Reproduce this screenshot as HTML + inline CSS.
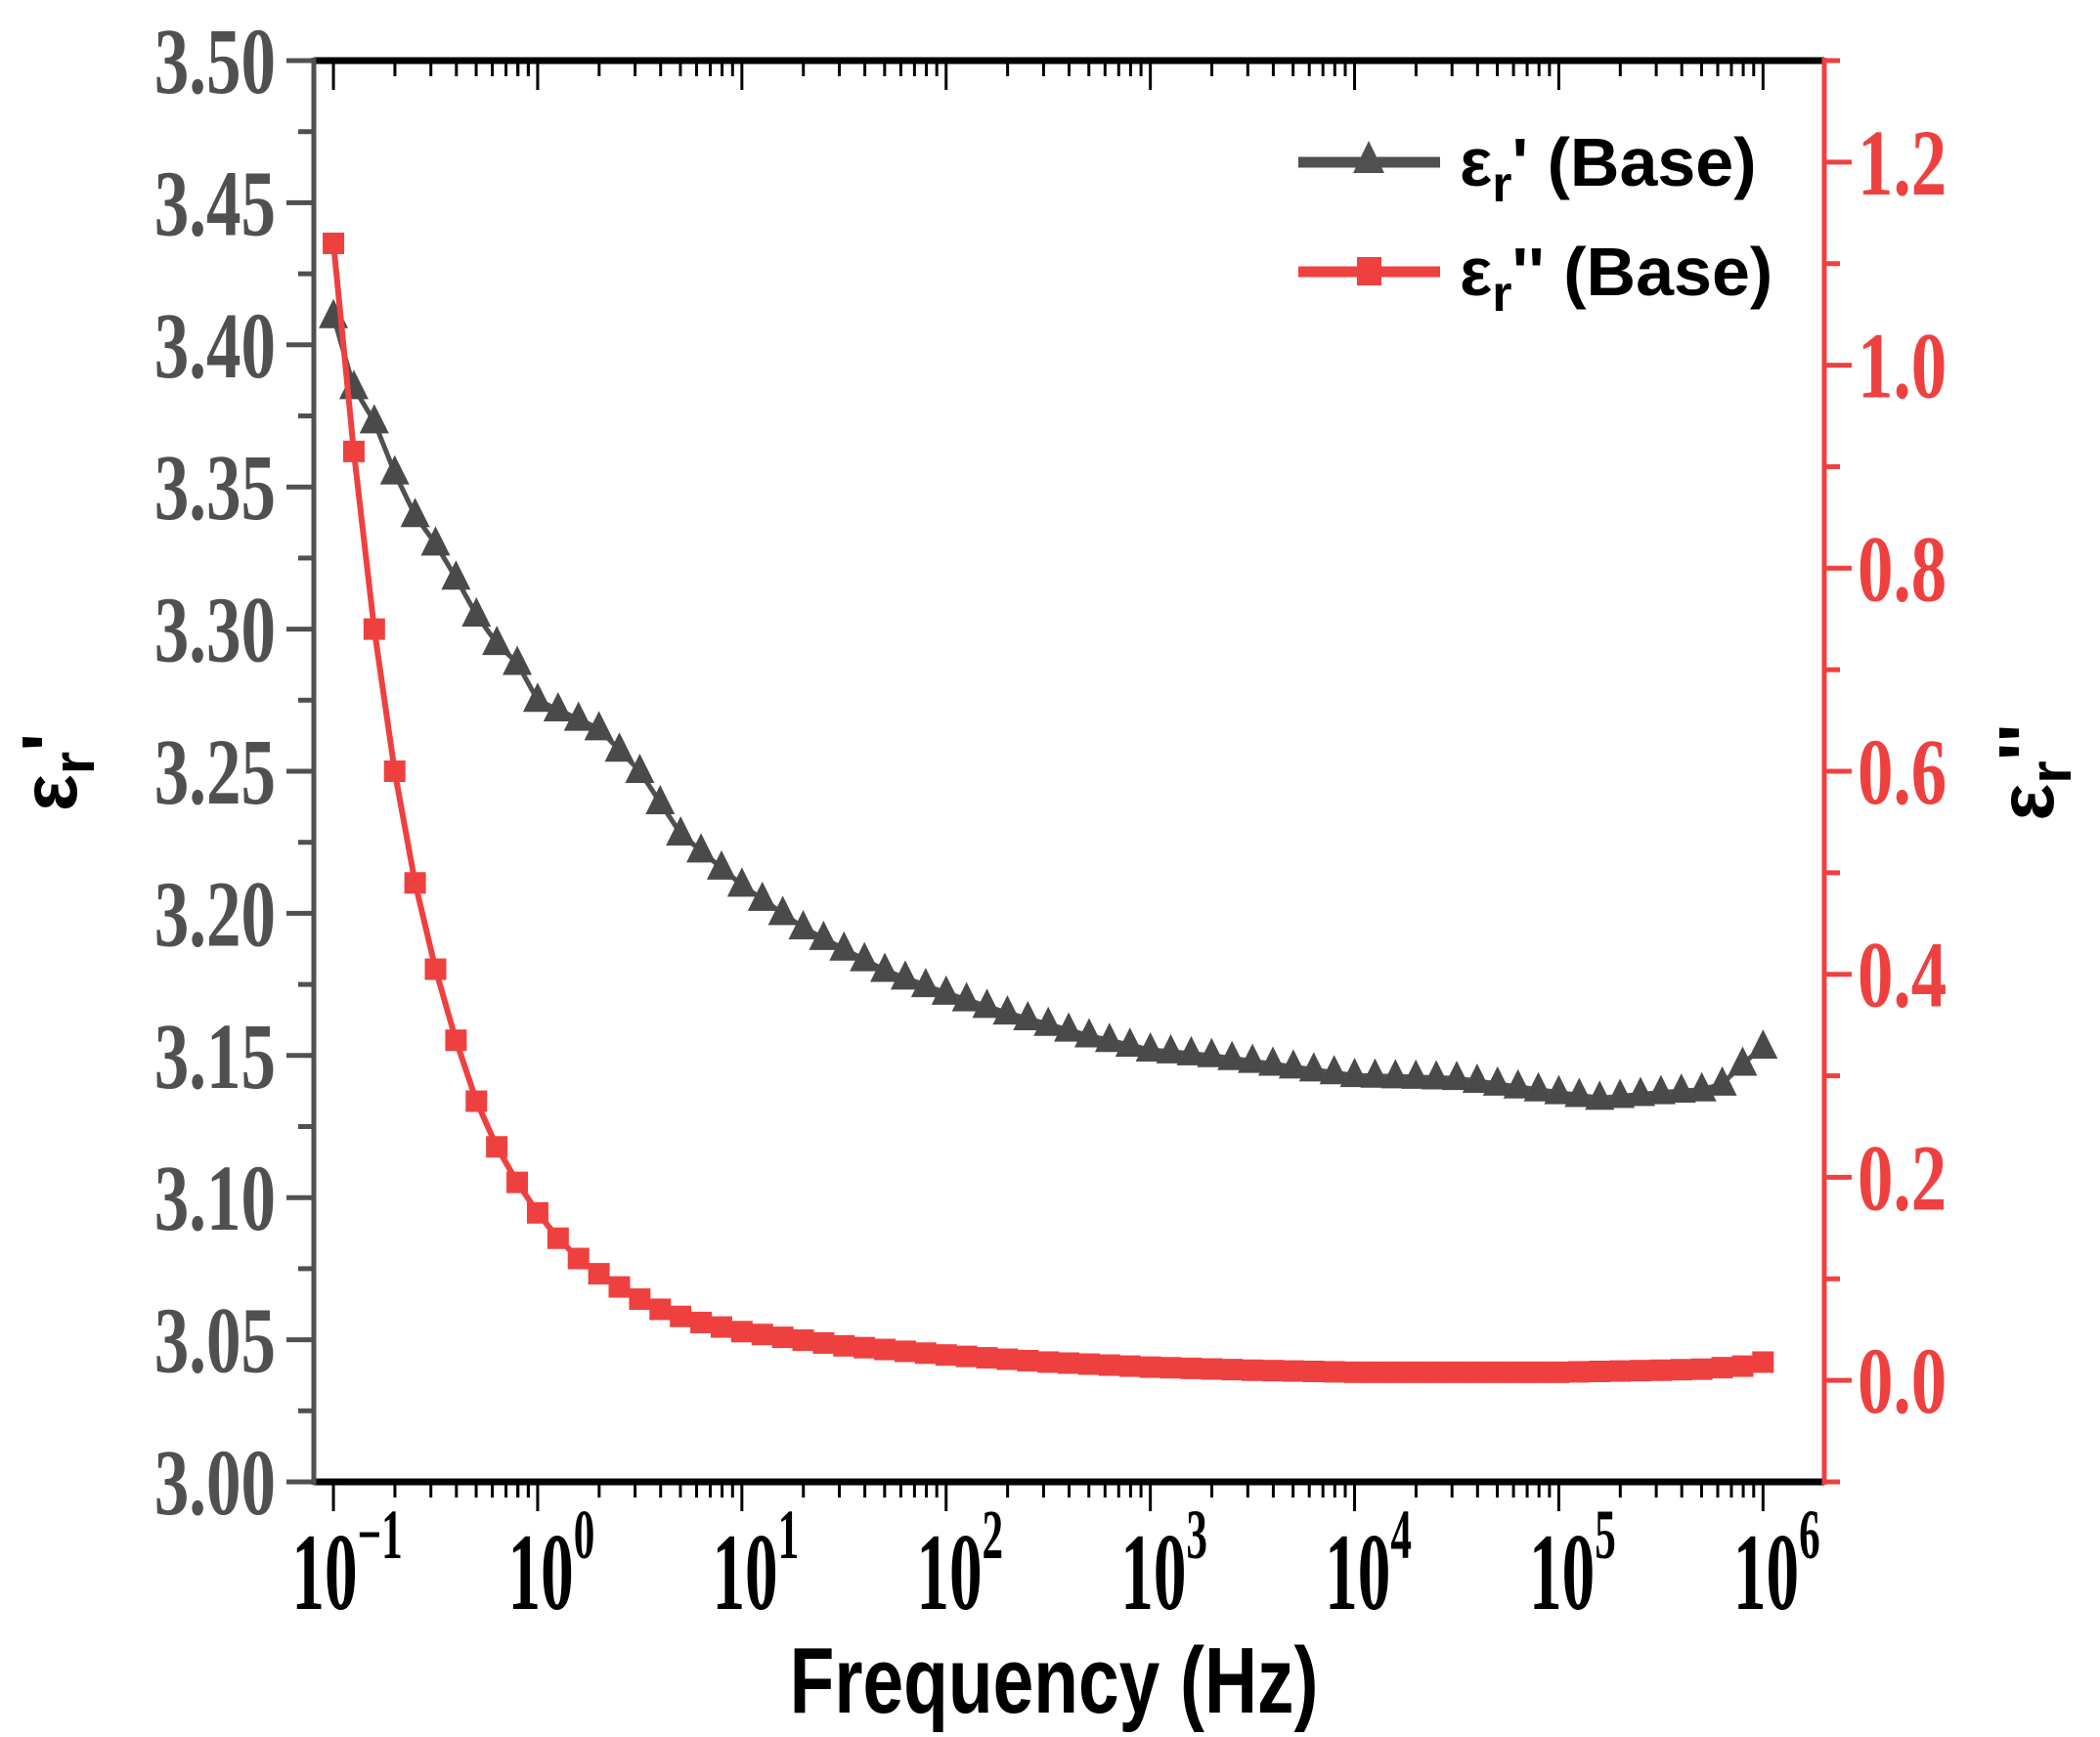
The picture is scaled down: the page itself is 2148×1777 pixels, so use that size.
<!DOCTYPE html>
<html><head><meta charset="utf-8"><style>
html,body{margin:0;padding:0;background:#fff}
svg{display:block}
</style></head><body>
<svg id="s" width="2148" height="1777" xmlns="http://www.w3.org/2000/svg"></svg>
<script>
const s=document.getElementById('s');
const L=321,R=1866,T=62,B=1516;
const lx0=-1.096,lx1=6.30;
const X=l=>L+(l-lx0)/(lx1-lx0)*(R-L);
const Y1=v=>B-(v-3.0)/0.5*(B-T);
const Y2=v=>B-(v+0.1)/1.4*(B-T);
let h='';
const GR='#505050',RD='#ef4040';
const e1=[[-1,3.41],[-0.9,3.385],[-0.8,3.373],[-0.7,3.355],[-0.6,3.34],[-0.5,3.33],[-0.4,3.318],[-0.3,3.305],[-0.2,3.295],[-0.1,3.288],[0,3.275],[0.3,3.265],[0.5,3.25],[0.7,3.228],[1,3.21],[1.3,3.195],[1.7,3.18],[2,3.172],[2.3,3.165],[2.7,3.157],[3,3.152],[3.3,3.15],[3.7,3.146],[4,3.143],[4.5,3.142],[5,3.137],[5.2,3.135],[5.5,3.137],[5.7,3.138],[5.8,3.14],[5.9,3.147],[6,3.153]];
const e2=[[-1,1.12],[-0.9,0.915],[-0.8,0.74],[-0.7,0.6],[-0.6,0.49],[-0.5,0.405],[-0.4,0.335],[-0.3,0.275],[-0.2,0.23],[-0.1,0.195],[0,0.165],[0.1,0.14],[0.2,0.12],[0.3,0.105],[0.4,0.092],[0.5,0.08],[0.6,0.07],[0.7,0.063],[0.8,0.057],[1,0.048],[1.5,0.034],[2,0.025],[2.5,0.018],[3,0.013],[3.5,0.01],[4,0.008],[5,0.008],[5.5,0.010],[5.7,0.011],[5.9,0.014],[6,0.018]];
function interp(c,l){for(let i=0;i<c.length-1;i++){if(l<=c[i+1][0]+1e-9){const t=(l-c[i][0])/(c[i+1][0]-c[i][0]);return c[i][1]+t*(c[i+1][1]-c[i][1]);}}return c[c.length-1][1];}
const ls=[];for(let i=0;i<=70;i++)ls.push(-1+i*0.1);
let p=ls.map(l=>X(l).toFixed(1)+','+Y1(interp(e1,l)).toFixed(1)).join(' ');
h+=`<polyline points="${p}" fill="none" stroke="${GR}" stroke-width="5"/>`;
ls.forEach(l=>{const x=X(l),y=Y1(interp(e1,l));h+=`<polygon points="${x},${y-18} ${x-15},${y+12} ${x+15},${y+12}" fill="#4a4a4a"/>`;});
p=ls.map(l=>X(l).toFixed(1)+','+Y2(interp(e2,l)).toFixed(1)).join(' ');
h+=`<polyline points="${p}" fill="none" stroke="${RD}" stroke-width="6"/>`;
ls.forEach(l=>{const x=X(l),y=Y2(interp(e2,l));h+=`<rect x="${x-11}" y="${y-11}" width="22" height="22" fill="${RD}"/>`;});
for(let d=-1;d<=6;d++){
  const x=X(d);
  h+=`<line x1="${x}" y1="${B}" x2="${x}" y2="${B+30}" stroke="#000" stroke-width="3"/>`;
  h+=`<line x1="${x}" y1="${T}" x2="${x}" y2="${T+30}" stroke="#000" stroke-width="3"/>`;
  if(d<6)for(let k=2;k<=9;k++){const xm=X(d+Math.log10(k));h+=`<line x1="${xm}" y1="${B}" x2="${xm}" y2="${B+16}" stroke="#000" stroke-width="3"/><line x1="${xm}" y1="${T}" x2="${xm}" y2="${T+16}" stroke="#000" stroke-width="3"/>`;}
  const lab=d<0?'−1':String(d);
  h+=`<text x="${x+14}" y="1646" text-anchor="middle" font-family="Liberation Serif" font-weight="bold" font-size="112" transform="translate(${x+14},0) scale(0.6,1) translate(${-(x+14)},0)" fill="#000">10<tspan dy="-52" font-size="72">${lab}</tspan></text>`;
}
for(let k of [8,9]){const xm=X(-2+Math.log10(k)+1);if(xm>L){h+=`<line x1="${xm}" y1="${B}" x2="${xm}" y2="${B+16}" stroke="#000" stroke-width="3"/><line x1="${xm}" y1="${T}" x2="${xm}" y2="${T+16}" stroke="#000" stroke-width="3"/>`;}}
for(let i=0;i<=20;i++){const v=3+i*0.025,y=Y1(v),maj=i%2==0;
  h+=`<line x1="${L-(maj?28:16)}" y1="${y}" x2="${L}" y2="${y}" stroke="${GR}" stroke-width="5"/>`;
  if(maj)h+=`<text x="282" y="${y+33}" text-anchor="end" font-family="Liberation Serif" font-weight="bold" font-size="96" fill="${GR}" transform="translate(282,0) scale(0.74,1) translate(-282,0)">${v.toFixed(2)}</text>`;}
for(let i=0;i<=14;i++){const v=-0.1+i*0.1,y=Y2(v),maj=(i%2==1);
  h+=`<line x1="${R}" y1="${y}" x2="${R+(maj?28:16)}" y2="${y}" stroke="${RD}" stroke-width="5"/>`;
  if(maj)h+=`<text x="1900" y="${y+33}" font-family="Liberation Serif" font-weight="bold" font-size="96" fill="${RD}" transform="translate(1900,0) scale(0.76,1) translate(-1900,0)">${Math.abs(v).toFixed(1)}</text>`;}
h+=`<line x1="${L}" y1="${T}" x2="${R}" y2="${T}" stroke="#000" stroke-width="7"/>`;
h+=`<line x1="${L}" y1="${B}" x2="${R}" y2="${B}" stroke="#000" stroke-width="7"/>`;
h+=`<line x1="${L}" y1="${T-3}" x2="${L}" y2="${B+3}" stroke="${GR}" stroke-width="5"/>`;
h+=`<line x1="${R}" y1="${T-3}" x2="${R}" y2="${B+3}" stroke="${RD}" stroke-width="5"/>`;
h+=`<text x="1078" y="1752" text-anchor="middle" font-family="Liberation Sans" font-weight="bold" font-size="96" transform="translate(1078,0) scale(0.78,1) translate(-1078,0)">Frequency (Hz)</text>`;
h+=`<text transform="translate(78,790) rotate(-90)" text-anchor="middle" font-family="Liberation Sans" font-weight="bold" font-size="80">ε<tspan dy="18" font-size="60">r</tspan><tspan dy="-18">'</tspan></text>`;
h+=`<text transform="translate(2100,790) rotate(-90)" text-anchor="middle" font-family="Liberation Sans" font-weight="bold" font-size="80">ε<tspan dy="18" font-size="60">r</tspan><tspan dy="-18">''</tspan></text>`;
h+=`<line x1="1328" y1="166" x2="1473" y2="166" stroke="${GR}" stroke-width="11"/><polygon points="1400,144 1384,177 1416,177" fill="${GR}"/>`;
h+=`<line x1="1328" y1="278" x2="1473" y2="278" stroke="${RD}" stroke-width="11"/><rect x="1388" y="263" width="25" height="29" fill="${RD}"/>`;
h+=`<text x="1493" y="190" font-family="Liberation Sans" font-weight="bold" font-size="70">ε<tspan dy="16" font-size="52">r</tspan><tspan dy="-16">' (Base)</tspan></text>`;
h+=`<text x="1493" y="302" font-family="Liberation Sans" font-weight="bold" font-size="70">ε<tspan dy="16" font-size="52">r</tspan><tspan dy="-16">'' (Base)</tspan></text>`;
s.innerHTML=h;
</script>
</body></html>
